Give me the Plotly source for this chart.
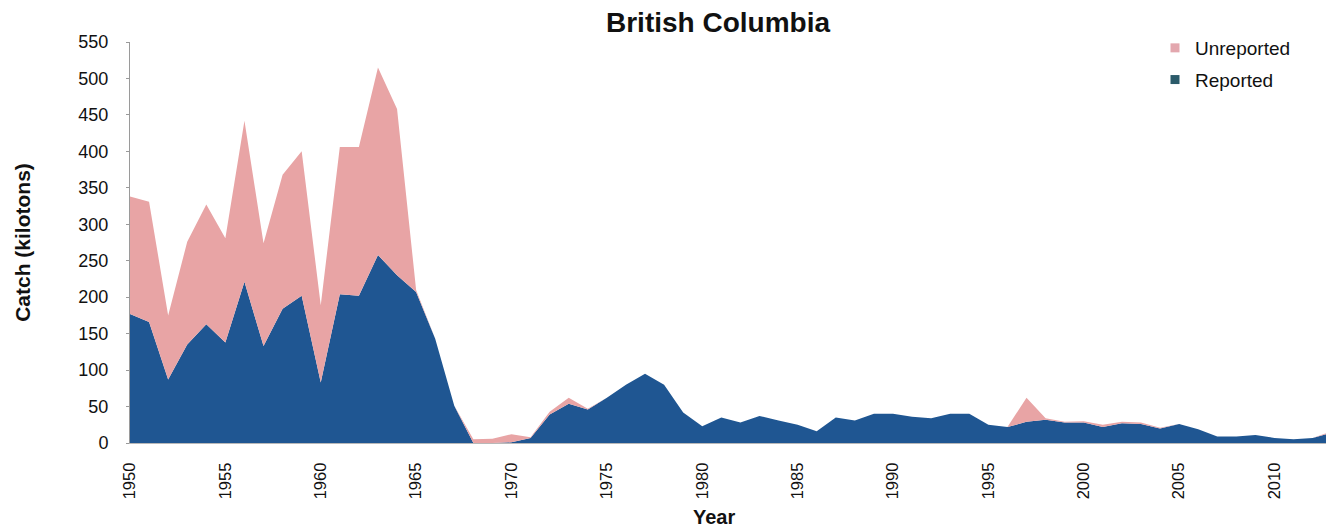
import plotly.graph_objects as go

# Annual catch, British Columbia (kilotons)
years = list(range(1950, 2014))

reported = [
    177, 166, 87, 135, 163, 138, 221, 133, 184, 202,   # 1950-1959
    83, 204, 202, 258, 230, 207, 143, 51, 0, 0,        # 1960-1969
    1, 7, 39, 54, 46, 62, 80, 95, 80, 42,              # 1970-1979
    23, 35, 28, 37, 31, 25, 16, 35, 31, 40,            # 1980-1989
    40, 36, 34, 40, 40, 25, 22, 29, 32, 28,            # 1990-1999
    28, 22, 27, 26, 20, 26, 19, 9, 9, 11,              # 2000-2009
    7, 5, 7, 14,                                       # 2010-2013
]

unreported = [
    161, 165, 88, 141, 164, 143, 221, 141, 184, 198,   # 1950-1959
    106, 202, 204, 257, 228, 3, 0, 0, 5, 6,            # 1960-1969
    11, 1, 4, 8, 1, 0, 0, 0, 0, 0,                     # 1970-1979
    0, 0, 0, 0, 0, 0, 0, 0, 0, 0,                      # 1980-1989
    0, 0, 0, 0, 0, 0, 0, 33, 2, 1,                     # 1990-1999
    2, 3, 2, 2, 1, 0, 0, 0, 0, 0,                      # 2000-2009
    0, 0, 0, 2,                                        # 2010-2013
]

y_ticks = list(range(0, 551, 50))
x_ticks = list(range(1950, 2011, 5))

BLUE = "#1f5692"
PINK = "#e8a4a5"
LEGEND_PINK = "#e3a7ae"
LEGEND_TEAL = "#2b5b6a"
FONT = "Liberation Sans, Arial, sans-serif"

fig = go.Figure()

fig.add_trace(go.Scatter(
    x=years, y=reported, stackgroup="catch", mode="none",
    fillcolor=BLUE, line=dict(width=0), showlegend=False, name="Reported",
))
fig.add_trace(go.Scatter(
    x=years, y=unreported, stackgroup="catch", mode="none",
    fillcolor=PINK, line=dict(width=0), showlegend=False, name="Unreported",
))

# Square legend swatches
fig.add_trace(go.Scatter(
    x=[None], y=[None], mode="markers", name="Unreported", legendgroup="u",
    marker=dict(symbol="square", size=9, color=LEGEND_PINK),
))
fig.add_trace(go.Scatter(
    x=[None], y=[None], mode="markers", name="Reported", legendgroup="r",
    marker=dict(symbol="square", size=9, color=LEGEND_TEAL),
))

fig.update_layout(
    width=1326, height=531,
    margin=dict(l=130, r=0, t=42, b=88, autoexpand=False),
    paper_bgcolor="white", plot_bgcolor="white",
    font=dict(family=FONT, color="#111111"),
    title=dict(
        text="<b>British Columbia</b>", font=dict(size=28, color="#111111"),
        x=718 / 1326, xref="container", xanchor="center",
        y=1 - 22 / 531, yref="container", yanchor="middle",
    ),
    legend=dict(
        xref="container", yref="container",
        x=1155 / 1326, y=1 - 29 / 531, xanchor="left", yanchor="top",
        font=dict(size=19, color="#111111"),
        bgcolor="rgba(0,0,0,0)", tracegroupgap=4, itemwidth=30,
    ),
    showlegend=True,
)

fig.update_xaxes(
    range=[1950, 2012.7], tickmode="array", tickvals=x_ticks,
    ticktext=[str(v) for v in x_ticks], tickangle=-90,
    tickfont=dict(size=16.5), showgrid=False, zeroline=False,
    showline=True, linecolor="#b8b8b8", linewidth=1, ticks="",
    ticklabelstandoff=12,
)
fig.update_yaxes(
    range=[0, 550], tickmode="array", tickvals=y_ticks,
    tickfont=dict(size=18), showgrid=False, zeroline=False,
    showline=True, linecolor="#9a9a9a", linewidth=1,
    ticks="outside", ticklen=3, tickcolor="#9a9a9a",
    ticklabelstandoff=14,
    title=dict(text="<b>Catch (kilotons)</b>", font=dict(size=21), standoff=42),
)

fig.add_annotation(
    text="<b>Year</b>", xref="paper", yref="paper",
    x=(714 - 130) / 1196, y=(443 - 517) / 401,
    xanchor="center", yanchor="middle", showarrow=False,
    font=dict(size=20, color="#111111"),
)

fig.write_html("out.html")
